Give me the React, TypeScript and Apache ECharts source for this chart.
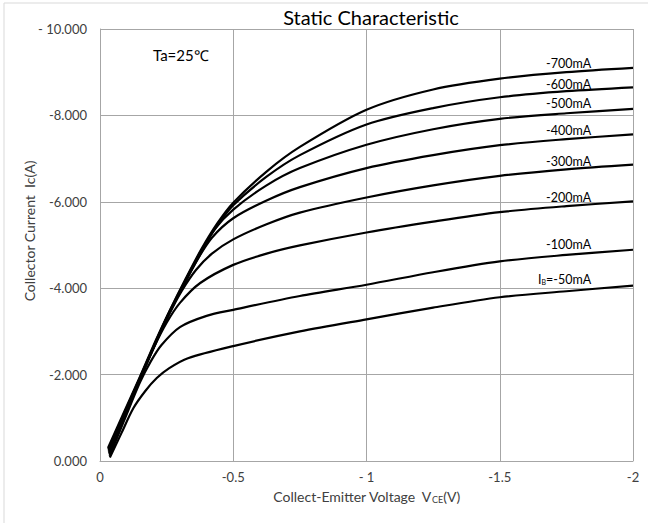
import React, { useEffect, useRef } from "react";
import * as echarts from "echarts";

const xTickLabels = ["0", "-0.5", "- 1", "-1.5", "-2"];
const yTickLabels = ["- 10.000", "-8.000", "-6.000", "-4.000", "-2.000", "0.000"];

const seriesNames = ["-700mA", "-600mA", "-500mA", "-400mA", "-300mA", "-200mA", "-100mA", "IB=-50mA"];

const ib700: [number, number][] = [
  [-0.03, -0.3], [-0.09, -1.13], [-0.15, -1.95], [-0.21, -2.8], [-0.26, -3.46], [-0.32, -4.2],
  [-0.38, -4.9], [-0.44, -5.5], [-0.5, -5.98], [-0.625, -6.7], [-0.75, -7.27], [-1, -8.13],
  [-1.25, -8.6], [-1.5, -8.85], [-1.75, -9.0], [-2, -9.1],
];
const ib600: [number, number][] = [
  [-0.031, -0.27], [-0.09, -1.09], [-0.15, -1.93], [-0.21, -2.78], [-0.26, -3.45], [-0.32, -4.18],
  [-0.38, -4.87], [-0.44, -5.45], [-0.5, -5.92], [-0.625, -6.58], [-0.75, -7.08], [-1, -7.79],
  [-1.25, -8.17], [-1.5, -8.42], [-1.75, -8.56], [-2, -8.65],
];
const ib500: [number, number][] = [
  [-0.032, -0.24], [-0.09, -1.07], [-0.15, -1.92], [-0.21, -2.76], [-0.26, -3.44], [-0.32, -4.15],
  [-0.38, -4.82], [-0.43, -5.36], [-0.5, -5.82], [-0.625, -6.38], [-0.75, -6.78], [-1, -7.32],
  [-1.25, -7.68], [-1.5, -7.92], [-1.75, -8.05], [-2, -8.15],
];
const ib400: [number, number][] = [
  [-0.033, -0.21], [-0.09, -1.04], [-0.15, -1.91], [-0.21, -2.75], [-0.26, -3.42], [-0.315, -4.08],
  [-0.365, -4.66], [-0.42, -5.17], [-0.5, -5.62], [-0.625, -6.03], [-0.75, -6.34], [-1, -6.78],
  [-1.25, -7.08], [-1.5, -7.31], [-1.75, -7.45], [-2, -7.56],
];
const ib300: [number, number][] = [
  [-0.034, -0.18], [-0.09, -1.01], [-0.15, -1.9], [-0.21, -2.74], [-0.26, -3.4], [-0.305, -3.92],
  [-0.36, -4.42], [-0.42, -4.8], [-0.5, -5.13], [-0.625, -5.48], [-0.75, -5.75], [-1, -6.1],
  [-1.25, -6.38], [-1.5, -6.6], [-1.75, -6.75], [-2, -6.86],
];
const ib200: [number, number][] = [
  [-0.035, -0.15], [-0.09, -0.98], [-0.15, -1.88], [-0.205, -2.66], [-0.25, -3.2], [-0.3, -3.66],
  [-0.376, -4.12], [-0.5, -4.54], [-0.625, -4.8], [-0.75, -4.99], [-1, -5.29], [-1.25, -5.54],
  [-1.5, -5.76], [-1.75, -5.9], [-2, -6.01],
];
const ib100: [number, number][] = [
  [-0.036, -0.12], [-0.09, -0.93], [-0.15, -1.82], [-0.19, -2.3], [-0.23, -2.68], [-0.3, -3.1],
  [-0.4, -3.36], [-0.5, -3.5], [-0.75, -3.82], [-1, -4.08], [-1.25, -4.37], [-1.5, -4.62],
  [-1.75, -4.77], [-2, -4.89],
];
const ib50: [number, number][] = [
  [-0.037, -0.08], [-0.08, -0.64], [-0.125, -1.22], [-0.17, -1.62], [-0.213, -1.92], [-0.26, -2.15],
  [-0.33, -2.38], [-0.5, -2.66], [-0.75, -3.0], [-1, -3.28], [-1.25, -3.55], [-1.5, -3.79],
  [-1.75, -3.93], [-2, -4.06],
];

const curves = [ib700, ib600, ib500, ib400, ib300, ib200, ib100, ib50];

// label text per curve and its pixel placement
const labelTexts = ["-700mA", "-600mA", "-500mA", "-400mA", "-300mA", "-200mA", "-100mA", "{n|I}{sub|B}{n|=-50mA}"];
const labelPos: [number, number][] = [
  [546, 63], [546, 84], [546, 103], [546, 130], [546, 161], [546, 197], [546, 244], [538, 279],
];

export default function App() {
  const ref = useRef<HTMLDivElement>(null);
  useEffect(() => {
    if (!ref.current) return;
    const chart = echarts.init(ref.current, null, { renderer: "svg" });
    const font = "Lato, 'Open Sans', sans-serif";
    const gray = "#404040";
    chart.setOption({
      animation: false,
      backgroundColor: "#ffffff",
      textStyle: { fontFamily: font },
      title: {
        text: "Static Characteristic",
        left: 366,
        top: 2,
        textAlign: "center",
        textStyle: { fontFamily: font, fontSize: 20, fontWeight: "normal", color: "#000" },
      },
      grid: { left: 100, right: 15, top: 29, bottom: 62, show: false },
      xAxis: {
        type: "value",
        min: -2,
        max: 0,
        interval: 0.5,
        inverse: true,
        name: "Collect-Emitter Voltage  V{sub|CE}(V)",
        nameLocation: "middle",
        nameGap: 28,
        nameTextStyle: {
          fontFamily: font,
          fontSize: 14,
          color: gray,
          rich: { sub: { fontSize: 9, padding: [6, 0, 0, 0], color: gray } },
        },
        axisLine: { show: true, lineStyle: { color: "#a6a6a6", width: 1 } },
        axisTick: { show: false },
        splitLine: { show: true, lineStyle: { color: "#a6a6a6", width: 1 } },
        axisLabel: {
          fontFamily: font,
          fontSize: 13,
          color: gray,
          margin: 9,
          formatter: (v: number) => xTickLabels[Math.round(-v / 0.5)] ?? "",
        },
      },
      yAxis: {
        type: "value",
        min: -10,
        max: 0,
        interval: 2,
        inverse: true,
        axisLine: { show: true, lineStyle: { color: "#a6a6a6", width: 1 } },
        axisTick: { show: false },
        splitLine: { show: true, lineStyle: { color: "#a6a6a6", width: 1 } },
        axisLabel: {
          fontFamily: font,
          fontSize: 13,
          color: gray,
          margin: 13,
          formatter: (v: number) => yTickLabels[Math.round((v + 10) / 2)] ?? "",
        },
      },
      series: curves.map((d, i) => ({
        name: seriesNames[i],
        type: "line",
        data: d,
        smooth: 0.3,
        showSymbol: false,
        symbol: "none",
        lineStyle: { color: "#000", width: 2.2 },
        itemStyle: { color: "#000" },
        z: 3,
      })),
      graphic: [
        {
          type: "rect",
          shape: { x: 4, y: 3, width: 700, height: 700 },
          style: { fill: "none", stroke: "#d9d9d9", lineWidth: 1 },
          silent: true,
          z: 0,
        },
        {
          type: "text",
          x: 29,
          y: 231,
          rotation: Math.PI / 2,
          style: {
            text: "Collector Current  Ic(A)",
            fontFamily: font,
            fontSize: 14,
            fill: gray,
            align: "center",
            verticalAlign: "middle",
          },
        },
        {
          type: "text",
          x: 153,
          y: 55,
          style: { text: "Ta=25℃", fontFamily: font, fontSize: 15, fill: "#000", verticalAlign: "middle" },
        },
        ...labelTexts.map((t, i) => ({
          type: "text",
          x: labelPos[i][0],
          y: labelPos[i][1],
          z: 10,
          style: {
            text: t,
            fontFamily: font,
            fontSize: 12.5,
            fill: "#000",
            verticalAlign: "middle",
            rich: {
              n: { fontFamily: font, fontSize: 12.5, fill: "#000" },
              sub: { fontFamily: font, fontSize: 7, fill: "#000", padding: [5, 0, 0, 0] },
            },
          },
        })),
      ],
    });
    return () => chart.dispose();
  }, []);
  return (
    <div
      ref={ref}
      style={{ position: "fixed", left: 0, top: 0, width: 648, height: 523, background: "#fff" }}
    />
  );
}
